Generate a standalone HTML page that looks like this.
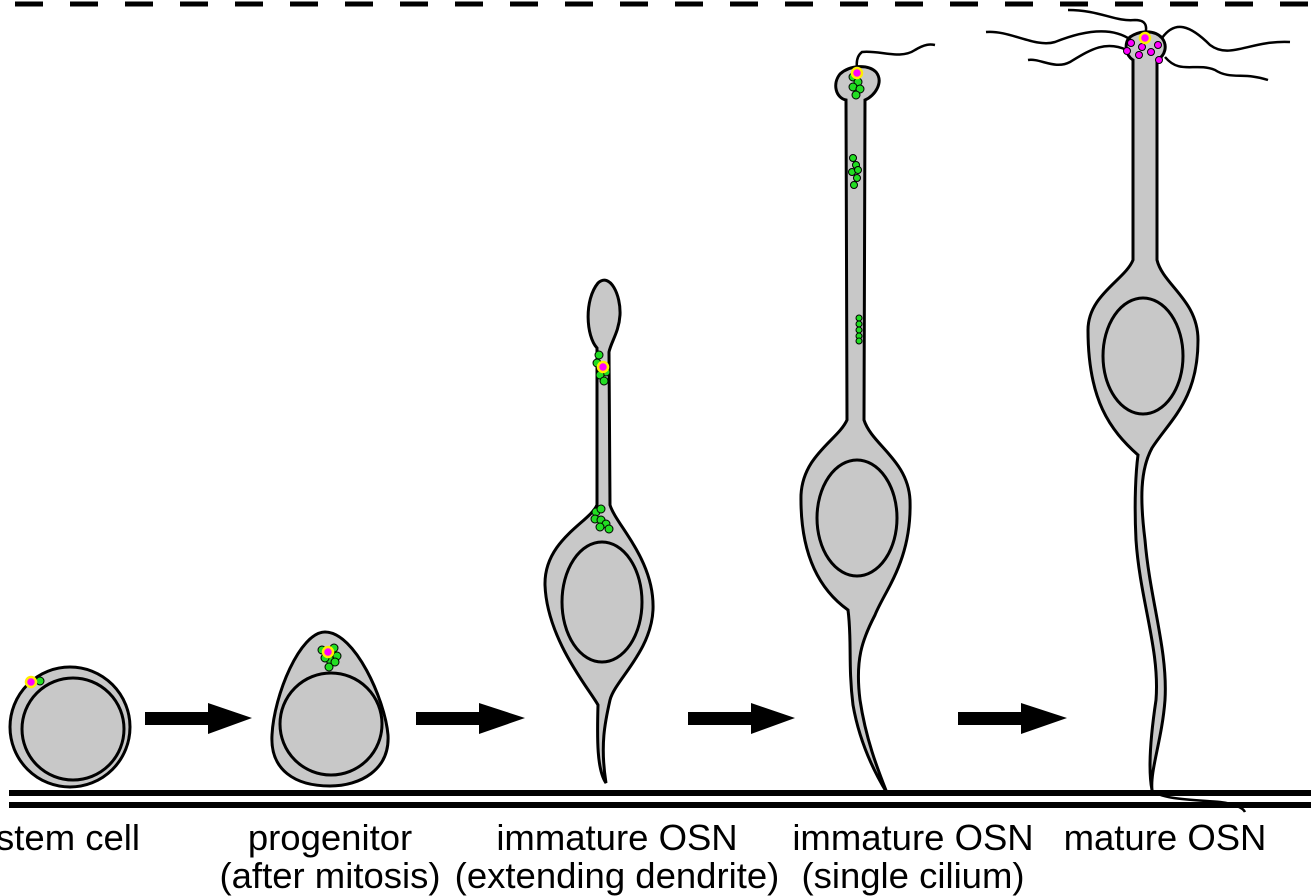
<!DOCTYPE html>
<html><head><style>
body{margin:0;background:#fff}
svg{display:block}
text{font-family:"Liberation Sans",Arial,sans-serif;font-size:36.5px;fill:#000}
</style></head><body>
<svg width="1311" height="896" viewBox="0 0 1311 896" xmlns="http://www.w3.org/2000/svg">
<line x1="-40" y1="4" x2="1311" y2="4" stroke="#000" stroke-width="5" stroke-dasharray="28 27"/>
<line x1="9" y1="793" x2="1311" y2="793" stroke="#000" stroke-width="6"/>
<line x1="9" y1="805" x2="1311" y2="805" stroke="#000" stroke-width="6"/>

<g stroke="#000" stroke-width="3" fill="#c8c8c8">
<ellipse cx="70" cy="727" rx="60" ry="60"/>
<ellipse cx="73" cy="729" rx="51" ry="51"/>
<path d="M325,632 C355,632 385,700 388,735 C390,770 360,786 330,786 C295,786 270,770 272,735 C274,695 300,632 325,632Z"/>
<circle cx="331" cy="724" r="51"/>
<path d="M597,348 C586,336 584,300 598,283 C610,272 621,295 620,315 C619,332 611,342 609,352 L610,505 C616,525 655,560 653,610 C651,652 615,680 610,700 C605,722 600,745 606,783 C597,770 597,740 598,705 C590,690 547,640 545,585 C544,540 590,522 597,505 Z"/>
<ellipse cx="602" cy="602" rx="40" ry="60"/>
<path d="M846,100 C836,98 832,84 840,74 C850,65 868,64 876,72 C884,82 875,96 865,100 L864,420 C872,445 908,460 910,500 C912,560 885,590 875,615 C862,640 855,660 860,700 C866,740 878,770 887,793 C876,775 860,745 853,705 C848,665 852,640 848,610 C820,590 800,555 801,495 C803,455 838,440 847,420 Z"/>
<ellipse cx="857" cy="518" rx="40" ry="58"/>
<path d="M1133,60 C1125,55 1124,42 1130,37 C1140,30 1155,30 1162,38 C1168,46 1165,56 1157,60 L1157,260 C1163,285 1198,300 1198,340 C1198,400 1170,420 1152,448 C1140,470 1140,500 1145,540 C1150,600 1168,650 1165,700 C1162,740 1150,770 1152,790 C1148,770 1150,740 1156,700 C1160,650 1140,600 1136,540 C1134,500 1136,470 1138,455 C1110,430 1088,400 1088,330 C1088,295 1125,280 1133,260 Z"/>
<ellipse cx="1143" cy="356" rx="40" ry="58"/>
</g>

<g stroke="#000" stroke-width="2.5" fill="none">
<path d="M857,68 C856,60 858,55 862,52 C880,50 900,60 915,50 C925,44 930,44 935,45"/>
<path d="M1145,35 C1148,25 1145,20 1135,20 C1115,22 1100,10 1068,10"/>
<path d="M1131,40 C1110,25 1080,32 1055,42 C1035,48 1010,30 986,32"/>
<path d="M1127,50 C1105,40 1090,50 1070,62 C1055,70 1040,58 1028,60"/>
<path d="M1162,38 C1175,20 1190,25 1210,45 C1230,60 1250,40 1290,42"/>
<path d="M1165,57 C1180,75 1195,62 1215,70 C1230,80 1245,72 1268,80"/>
<path d="M1152,790 C1160,800 1200,800 1220,802 C1235,804 1243,808 1245,812"/>
</g>

<g fill="#000">
<rect x="145" y="712" width="66" height="13"/><polygon points="208,703 252,718 208,734"/>
<rect x="416" y="712" width="66" height="13"/><polygon points="479,703 525,718 479,734"/>
<rect x="688" y="712" width="66" height="13"/><polygon points="751,703 795,718 751,734"/>
<rect x="958" y="712" width="66" height="13"/><polygon points="1021,703 1067,718 1021,734"/>
</g>

<g stroke="#000" stroke-width="1" fill="#22dd22">
<circle cx="40" cy="681" r="4"/>
<circle cx="322" cy="650" r="4"/><circle cx="334" cy="648" r="4"/><circle cx="337" cy="656" r="4"/><circle cx="330" cy="660" r="4"/><circle cx="325" cy="658" r="4"/><circle cx="329" cy="667" r="4"/><circle cx="335" cy="662" r="4"/>
<circle cx="599" cy="355" r="4"/><circle cx="597" cy="363" r="4"/><circle cx="606" cy="372" r="4"/><circle cx="600" cy="375" r="4"/><circle cx="604" cy="381" r="4"/>
<circle cx="596" cy="512" r="4"/><circle cx="601" cy="509" r="4"/><circle cx="595" cy="519" r="4"/><circle cx="601" cy="520" r="4"/><circle cx="606" cy="524" r="4"/><circle cx="600" cy="527" r="4"/><circle cx="609" cy="529" r="4"/>
<circle cx="853" cy="77" r="4"/><circle cx="858" cy="82" r="4"/><circle cx="853" cy="87" r="4"/><circle cx="860" cy="89" r="4"/><circle cx="856" cy="95" r="4"/>
<circle cx="853" cy="158" r="3.5"/><circle cx="856" cy="165" r="3.5"/><circle cx="852" cy="172" r="3.5"/><circle cx="857" cy="178" r="3.5"/><circle cx="854" cy="185" r="3.5"/><circle cx="858" cy="170" r="3.5"/>
<circle cx="859" cy="318" r="3"/><circle cx="859" cy="324" r="3"/><circle cx="859" cy="330" r="3"/><circle cx="859" cy="336" r="3"/><circle cx="859" cy="341" r="3"/>
</g>
<g stroke="#000" stroke-width="1" fill="#ff00ff">
<circle cx="1131" cy="43" r="3.5"/><circle cx="1142" cy="47" r="3.5"/><circle cx="1158" cy="45" r="3.5"/><circle cx="1127" cy="51" r="3.5"/><circle cx="1139" cy="55" r="3.5"/><circle cx="1151" cy="52" r="3.5"/><circle cx="1159" cy="60" r="3.5"/>
</g>
<g stroke="#ffee00" stroke-width="2.5" fill="#ff00ff">
<circle cx="31" cy="682" r="5"/>
<circle cx="328" cy="652" r="5"/>
<circle cx="603" cy="367" r="5"/>
<circle cx="857" cy="73" r="5"/>
<circle cx="1145" cy="38" r="5"/>
</g>

<g text-anchor="middle">
<text x="68" y="850">stem cell</text>
<text x="330" y="850">progenitor</text>
<text x="330" y="888">(after mitosis)</text>
<text x="617" y="850">immature OSN</text>
<text x="617" y="888">(extending dendrite)</text>
<text x="913" y="850">immature OSN</text>
<text x="913" y="888">(single cilium)</text>
<text x="1165" y="850">mature OSN</text>
</g>
</svg>
</body></html>
